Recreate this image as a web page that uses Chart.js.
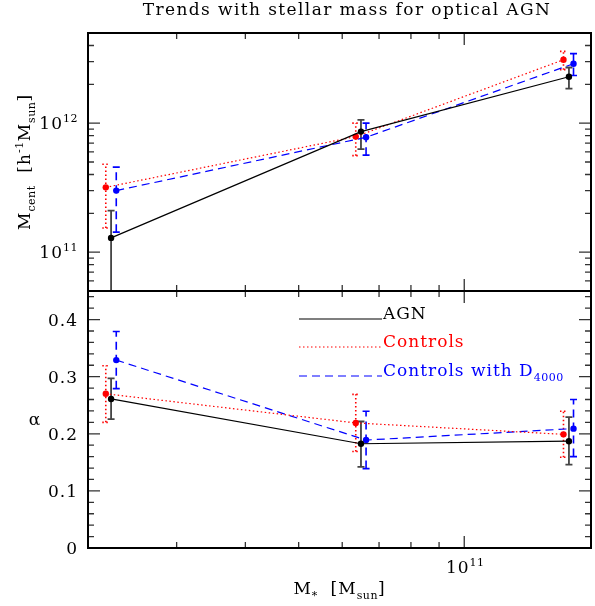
<!DOCTYPE html>
<html>
<head>
<meta charset="utf-8">
<script src="https://cdn.jsdelivr.net/npm/chart.js@4.4.1/dist/chart.umd.min.js"></script>
<style>
  html, body { margin: 0; padding: 0; background: #fff; }
  #wrap { position: relative; width: 595px; height: 606px; }
  #wrap canvas { position: absolute; left: 0; top: 0; }
</style>
</head>
<body>
<div id="wrap">
  <canvas id="topChart" width="595" height="606"></canvas>
  <canvas id="bottomChart" width="595" height="606"></canvas>
</div>
<script>
// Stellar mass of each bin (samples nudged apart slightly in mass)
const massAgn      = [2.28e10, 6.49e10, 1.55e11];
const massControls = [2.23e10, 6.35e10, 1.515e11];
const massD4000    = [2.33e10, 6.63e10, 1.58e11];

// Central halo mass
const mcentAgn        = [1.29e11, 8.6e11, 2.29e12];
const mcentAgnLo      = [4.7e10, 6.3e11, 1.85e12];
const mcentAgnHi      = [2.1e11, 1.06e12, 2.7e12];
const mcentControls   = [3.18e11, 7.87e11, 3.1e12];
const mcentControlsLo = [1.54e11, 5.6e11, 2.6e12];
const mcentControlsHi = [4.8e11, 1.0e12, 3.6e12];
const mcentD4000      = [3.0e11, 7.77e11, 2.89e12];
const mcentD4000Lo    = [1.43e11, 5.65e11, 2.34e12];
const mcentD4000Hi    = [4.56e11, 1.0e12, 3.46e12];

// Satellite fraction alpha
const alphaAgn        = [0.261, 0.1825, 0.187];
const alphaAgnLo      = [0.2255, 0.142, 0.146];
const alphaAgnHi      = [0.297, 0.2215, 0.229];
const alphaControls   = [0.270, 0.219, 0.199];
const alphaControlsLo = [0.220, 0.169, 0.159];
const alphaControlsHi = [0.319, 0.269, 0.2395];
const alphaD4000      = [0.329, 0.189, 0.209];
const alphaD4000Lo    = [0.279, 0.139, 0.160];
const alphaD4000Hi    = [0.379, 0.2395, 0.260];

// Tick labels
const massMajorExp  = [11];
const mcentMajorExp = [11, 12];
const alphaTicks    = [0, 0.1, 0.2, 0.3, 0.4];

const FONT = '"DejaVu Serif", "Liberation Serif", serif';
const RED = '#ff0000';
const BLUE = '#0000ff';
const DOT = [1.5, 2.5];
const DASH = [8, 5];

function pts(xs, ys) {
  return xs.map((x, i) => ({ x: x, y: ys[i] }));
}

function lineSet(label, xs, ys, color, dash) {
  return {
    label: label,
    data: pts(xs, ys),
    borderColor: color,
    backgroundColor: color,
    borderWidth: 1.2,
    borderDash: dash,
    pointRadius: 3.2,
    pointBorderWidth: 0,
    pointBackgroundColor: color,
    tension: 0
  };
}

// text with sub/superscripts: parts = [[text, 'n'|'sub'|'sup'], ...]
function setFont(ctx, size, small) {
  ctx.font = (small ? Math.round(size * 0.66) : size) + 'px ' + FONT;
  ctx.letterSpacing = (small ? 0.5 : 1) + 'px';
}

function richWidth(ctx, parts, size) {
  let w = 0;
  parts.forEach(p => {
    setFont(ctx, size, p[1] !== 'n');
    w += ctx.measureText(p[0]).width;
  });
  return w;
}

function drawRich(ctx, parts, x, y, size, align, color) {
  const w = richWidth(ctx, parts, size);
  let cx = align === 'center' ? x - w / 2 : align === 'right' ? x - w : x;
  ctx.fillStyle = color || '#000';
  ctx.textAlign = 'left';
  ctx.textBaseline = 'alphabetic';
  parts.forEach(p => {
    setFont(ctx, size, p[1] !== 'n');
    const dy = p[1] === 'sub' ? size * 0.28 : p[1] === 'sup' ? -size * 0.42 : 0;
    ctx.fillText(p[0], cx, y + dy);
    cx += ctx.measureText(p[0]).width;
  });
  ctx.letterSpacing = '0px';
}

function drawErrorBars(chart, sets) {
  const { ctx, chartArea: a, scales } = chart;
  const cap = 3.5;
  ctx.save();
  ctx.beginPath();
  ctx.rect(a.left, a.top, a.right - a.left, a.bottom - a.top);
  ctx.clip();
  sets.forEach(s => {
    ctx.strokeStyle = s.color;
    ctx.lineWidth = s.width;
    ctx.setLineDash(s.dash);
    s.x.forEach((xv, i) => {
      const px = scales.x.getPixelForValue(xv);
      const yl = scales.y.getPixelForValue(s.lo[i]);
      const yh = scales.y.getPixelForValue(s.hi[i]);
      ctx.beginPath();
      ctx.moveTo(px, yl); ctx.lineTo(px, yh);
      ctx.moveTo(px - cap, yl); ctx.lineTo(px + cap, yl);
      ctx.moveTo(px - cap, yh); ctx.lineTo(px + cap, yh);
      ctx.stroke();
    });
  });
  ctx.restore();
}

function massMinorTicks(min, max) {
  const out = [];
  for (let e = 9; e <= 13; e++) {
    for (let m = 1; m <= 9; m++) {
      const v = m * Math.pow(10, e);
      if (v > min && v < max) out.push({ v: v, major: m === 1 });
    }
  }
  return out;
}

function drawFrameAndTicks(chart, yTicks) {
  const { ctx, chartArea: a, scales } = chart;
  ctx.save();
  ctx.setLineDash([]);
  ctx.strokeStyle = '#333';
  ctx.lineWidth = 1.3;
  ctx.beginPath();
  massMinorTicks(scales.x.min, scales.x.max).forEach(t => {
    const px = scales.x.getPixelForValue(t.v);
    const len = t.major ? 12 : 6;
    ctx.moveTo(px, a.bottom); ctx.lineTo(px, a.bottom - len);
    ctx.moveTo(px, a.top); ctx.lineTo(px, a.top + len);
  });
  yTicks.forEach(t => {
    const py = scales.y.getPixelForValue(t.v);
    const len = t.major ? 12 : 6;
    ctx.moveTo(a.left, py); ctx.lineTo(a.left + len, py);
    ctx.moveTo(a.right, py); ctx.lineTo(a.right - len, py);
  });
  ctx.stroke();
  ctx.strokeStyle = '#000';
  ctx.lineWidth = 2;
  ctx.strokeRect(a.left, a.top, a.right - a.left, a.bottom - a.top);
  ctx.restore();
}

const xScale = {
  type: 'logarithmic',
  display: false,
  min: 2.07e10,
  max: 1.70e11
};

const baseOptions = {
  responsive: false,
  animation: false,
  events: [],
  plugins: { legend: { display: false }, tooltip: { enabled: false } }
};

// upper panel: central halo mass
const topPlugin = {
  id: 'mcentPanel',
  beforeDatasetsDraw(chart) {
    drawErrorBars(chart, [
      { x: massControls, lo: mcentControlsLo, hi: mcentControlsHi, color: RED, dash: DOT, width: 1.6 },
      { x: massD4000, lo: mcentD4000Lo, hi: mcentD4000Hi, color: BLUE, dash: DASH, width: 1.6 },
      { x: massAgn, lo: mcentAgnLo, hi: mcentAgnHi, color: '#444', dash: [], width: 1.8 }
    ]);
  },
  afterDraw(chart) {
    const { ctx, chartArea: a, scales } = chart;
    const ticks = [];
    for (let e = 10; e <= 12; e++) {
      for (let m = 1; m <= 9; m++) {
        const v = m * Math.pow(10, e);
        if (v > scales.y.min && v < scales.y.max) ticks.push({ v: v, major: m === 1 });
      }
    }
    drawFrameAndTicks(chart, ticks);

    ctx.save();
    mcentMajorExp.forEach(e => {
      const py = scales.y.getPixelForValue(Math.pow(10, e));
      drawRich(ctx, [['10', 'n'], [String(e), 'sup']], 78, py + 6, 17, 'right');
    });

    // title
    ctx.font = '17px ' + FONT;
    ctx.letterSpacing = '1.4px';
    ctx.fillStyle = '#000';
    ctx.textAlign = 'center';
    ctx.textBaseline = 'alphabetic';
    ctx.fillText('Trends with stellar mass for optical AGN', 347, 14.5);
    ctx.letterSpacing = '0px';

    // y title, rotated
    ctx.translate(30, (a.top + a.bottom) / 2);
    ctx.rotate(-Math.PI / 2);
    drawRich(ctx, [['M', 'n'], ['cent', 'sub'], ['  [h', 'n'], ['-1', 'sup'], ['M', 'n'], ['sun', 'sub'], [']', 'n']],
      0, 0, 17, 'center');
    ctx.restore();
  }
};

// lower panel: alpha
const bottomPlugin = {
  id: 'alphaPanel',
  beforeDatasetsDraw(chart) {
    drawErrorBars(chart, [
      { x: massControls, lo: alphaControlsLo, hi: alphaControlsHi, color: RED, dash: DOT, width: 1.6 },
      { x: massD4000, lo: alphaD4000Lo, hi: alphaD4000Hi, color: BLUE, dash: DASH, width: 1.6 },
      { x: massAgn, lo: alphaAgnLo, hi: alphaAgnHi, color: '#444', dash: [], width: 1.8 }
    ]);
  },
  afterDraw(chart) {
    const { ctx, chartArea: a, scales } = chart;
    const ticks = [];
    for (let k = 0; k <= 22; k++) {
      const v = k * 0.02;
      if (v < scales.y.max) ticks.push({ v: v, major: k % 5 === 0 });
    }
    drawFrameAndTicks(chart, ticks);

    ctx.save();
    alphaTicks.forEach(v => {
      const py = scales.y.getPixelForValue(v);
      drawRich(ctx, [[v === 0 ? '0' : v.toFixed(1), 'n']], 78, py + 6, 17, 'right');
    });
    massMajorExp.forEach(e => {
      const px = scales.x.getPixelForValue(Math.pow(10, e));
      drawRich(ctx, [['10', 'n'], [String(e), 'sup']], px + 1, a.bottom + 25, 17, 'center');
    });

    // x title
    drawRich(ctx, [['M', 'n'], ['*', 'sub'], ['  [M', 'n'], ['sun', 'sub'], [']', 'n']],
      (a.left + a.right) / 2, 594, 17, 'center');

    // legend
    const legend = [
      { parts: [['AGN', 'n']], color: '#000', dash: [], y: 319 },
      { parts: [['Controls', 'n']], color: RED, dash: DOT, y: 347 },
      { parts: [['Controls with D', 'n'], ['4000', 'sub']], color: BLUE, dash: DASH, y: 376 }
    ];
    legend.forEach(l => {
      ctx.strokeStyle = l.color;
      ctx.lineWidth = 1.2;
      ctx.setLineDash(l.dash);
      ctx.beginPath();
      ctx.moveTo(299, l.y);
      ctx.lineTo(382, l.y);
      ctx.stroke();
      drawRich(ctx, l.parts, 383, l.y, 17, 'left', l.color);
    });

    // alpha label
    drawRich(ctx, [['\u03b1', 'n']], 35, (a.top + a.bottom) / 2 + 5, 17, 'center');
    ctx.restore();
  }
};

new Chart(document.getElementById('topChart'), {
  type: 'line',
  data: {
    datasets: [
      lineSet('AGN', massAgn, mcentAgn, '#000', []),
      lineSet('Controls', massControls, mcentControls, RED, DOT),
      lineSet('Controls with D4000', massD4000, mcentD4000, BLUE, DASH)
    ]
  },
  options: Object.assign({}, baseOptions, {
    layout: { padding: { left: 88, right: 2, top: 33, bottom: 606 - 291 } },
    scales: {
      x: xScale,
      y: { type: 'logarithmic', display: false, min: 5e10, max: 5e12 }
    }
  }),
  plugins: [topPlugin]
});

new Chart(document.getElementById('bottomChart'), {
  type: 'line',
  data: {
    datasets: [
      lineSet('AGN', massAgn, alphaAgn, '#000', []),
      lineSet('Controls', massControls, alphaControls, RED, DOT),
      lineSet('Controls with D4000', massD4000, alphaD4000, BLUE, DASH)
    ]
  },
  options: Object.assign({}, baseOptions, {
    layout: { padding: { left: 88, right: 2, top: 291, bottom: 606 - 548 } },
    scales: {
      x: xScale,
      y: { type: 'linear', display: false, min: 0, max: 0.45 }
    }
  }),
  plugins: [bottomPlugin]
});
</script>
</body>
</html>
